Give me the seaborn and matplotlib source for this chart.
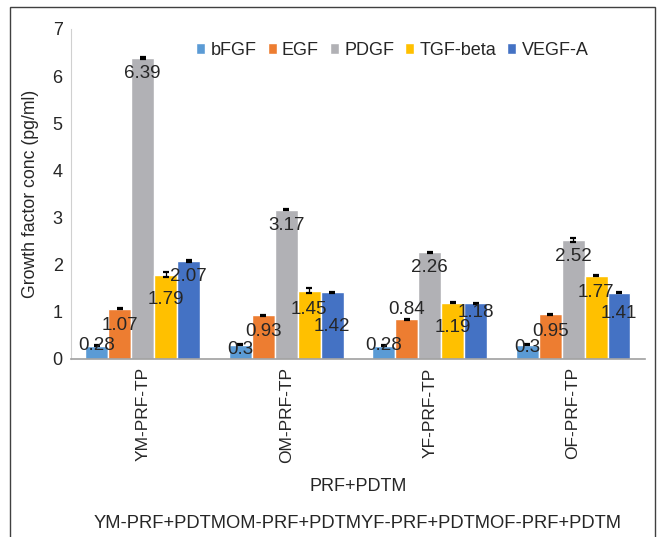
import matplotlib
matplotlib.use("Agg")
import matplotlib.pyplot as plt
import numpy as np
import pandas as pd
import seaborn as sns
from matplotlib.patches import Rectangle

groups = ["YM-PRF-TP", "OM-PRF-TP", "YF-PRF-TP", "OF-PRF-TP"]
factors = ["bFGF", "EGF", "PDGF", "TGF-beta", "VEGF-A"]
bfgf = [0.28, 0.3, 0.28, 0.3]
egf = [1.07, 0.93, 0.84, 0.95]
pdgf = [6.39, 3.17, 2.26, 2.52]
tgf_beta = [1.79, 1.45, 1.19, 1.77]
vegf_a = [2.07, 1.42, 1.18, 1.41]
# standard errors
bfgf_err = [0.01, 0.01, 0.01, 0.01]
egf_err = [0.01, 0.01, 0.01, 0.01]
pdgf_err = [0.02, 0.01, 0.01, 0.04]
tgf_beta_err = [0.06, 0.06, 0.01, 0.01]
vegf_a_err = [0.02, 0.01, 0.01, 0.01]

colors = ["#5B9BD5", "#ED7D31", "#B1B1B5", "#FFC000", "#4472C4"]
# how far (px) each value label sits below its bar top, Excel nudged them around
label_drop = [
    [0, 5, 0, 3],
    [17, 16, -10, 17],
    [16, 16, 15, 16],
    [25, 19, 25, 17],
    [15, 34, 9, 21],
]

values = [bfgf, egf, pdgf, tgf_beta, vegf_a]
errors = [bfgf_err, egf_err, pdgf_err, tgf_beta_err, vegf_a_err]
rows = []
for f, vals, errs in zip(factors, values, errors):
    for g, v, e in zip(groups, vals, errs):
        rows.append({"group": g, "factor": f, "value": v, "err": e})
df = pd.DataFrame(rows)

sns.set_style("white")
plt.rcParams["font.family"] = ["Liberation Sans", "DejaVu Sans"]

fig = plt.figure(figsize=(6.6, 5.37), dpi=100)
ax = fig.add_axes([0.1076, 0.3315, 0.8694, 0.6145])

sns.barplot(data=df, x="group", y="value", hue="factor", order=groups,
            hue_order=factors, palette=colors, errorbar=None, width=0.8,
            saturation=1, ax=ax)

bar_containers = list(ax.containers)
for i, cont in enumerate(bar_containers):
    for j, bar in enumerate(cont):
        x = bar.get_x() + bar.get_width() / 2
        v = values[i][j]
        ax.errorbar(x, v, yerr=errors[i][j], color="black", capsize=2.5,
                    elinewidth=0.9, capthick=1.6)
        ax.annotate(f"{v:g}", (x, v), xytext=(0, -label_drop[i][j] * 0.72),
                    textcoords="offset points", ha="center", va="center",
                    fontsize=13.5, color="#262626")

ax.set_xlim(-0.5, 3.5)
ax.set_ylim(0, 7)
ax.set_yticks(range(8))
ax.tick_params(axis="y", labelsize=13, length=0, pad=6, colors="#262626")
ax.tick_params(axis="x", labelsize=12.5, length=0, pad=6, colors="#262626")
plt.setp(ax.get_xticklabels(), rotation=90)
ax.set_ylabel("Growth factor conc (pg/ml)", fontsize=12.7, color="#262626")
ax.yaxis.set_label_coords(-0.055, 0.5)
ax.set_xlabel("PRF+PDTM", fontsize=13, color="#262626")
ax.xaxis.set_label_coords(0.5, -0.36)

for s in ["top", "right"]:
    ax.spines[s].set_visible(False)
ax.spines["left"].set_color("#D0D0D0")
ax.spines["bottom"].set_color("#A0A0A0")
ax.spines["bottom"].set_linewidth(1.2)

leg = ax.legend(loc="upper center", bbox_to_anchor=(0.56, 1.01), ncol=5,
                frameon=False, fontsize=13, handlelength=0.5, handleheight=0.5,
                handletextpad=0.3, columnspacing=0.6)

fig.text(358 / 660, 1 - 523 / 537, "YM-PRF+PDTMOM-PRF+PDTMYF-PRF+PDTMOF-PRF+PDTM",
         ha="center", va="center", fontsize=13.2, color="#262626")

fig.patches.append(Rectangle((10 / 660, -0.05), 645 / 660, 1.05 - 7 / 537,
                             transform=fig.transFigure, fill=False,
                             edgecolor="#404040", linewidth=1.0))

fig.savefig("out.png", dpi=100)
